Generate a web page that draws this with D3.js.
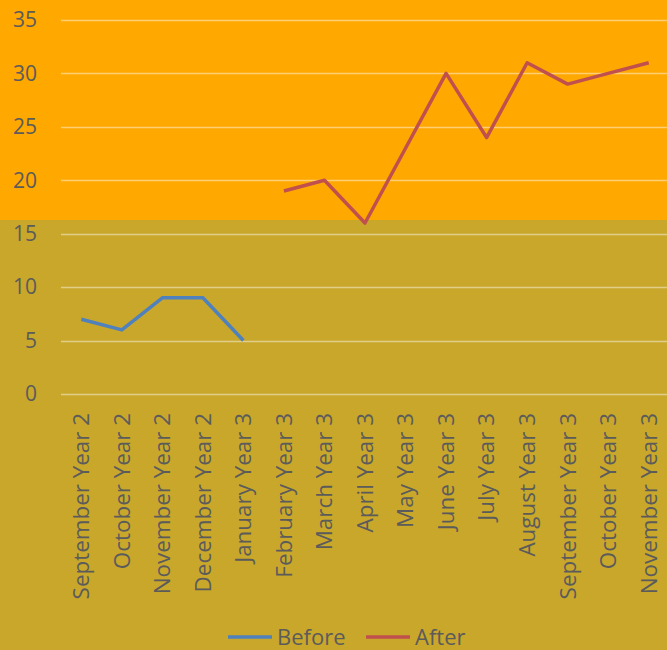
<!DOCTYPE html>
<html><head><meta charset="utf-8">
<script src="https://cdn.jsdelivr.net/npm/d3@7"></script>
<style>body{margin:0;background:#C9A72B;} svg{display:block;}</style>
</head><body>
<svg id="c" width="667" height="650"></svg>
<script>
const categories = ["September Year 2","October Year 2","November Year 2","December Year 2","January Year 3","February Year 3","March Year 3","April Year 3","May Year 3","June Year 3","July Year 3","August Year 3","September Year 3","October Year 3","November Year 3"];
const beforeValues = [7,6,9,9,5,null,null,null,null,null,null,null,null,null,null];
const afterValues = [null,null,null,null,null,19,20,16,23,30,24,31,29,30,31];
const yTicks = [0,5,10,15,20,25,30,35];
const seriesNames = ["Before","After"];
const seriesColors = ["#4F81BD","#C0504D"];

const svg = d3.select("#c");
const W = 667, H = 650;
const x = d3.scaleBand().domain(categories).range([61, 669]);
const y = d3.scaleLinear().domain([0,35]).range([394, 20]);
const font = "'Open Sans', sans-serif";
const textColor = "#5b5b5b";

svg.append("rect").attr("x",0).attr("y",0).attr("width",W).attr("height",H).attr("fill","#C9A72B");
svg.append("rect").attr("x",0).attr("y",0).attr("width",W).attr("height",220).attr("fill","#FFA800");

// gridlines
svg.append("g").selectAll("line").data(yTicks).join("line")
  .attr("x1",61).attr("x2",W).attr("y1",d=>Math.round(y(d))+0.5).attr("y2",d=>Math.round(y(d))+0.5)
  .attr("stroke","#ffffff").attr("stroke-opacity",0.45).attr("stroke-width",1.5);

// y axis labels
const yAxis = d3.axisLeft(y).tickValues(yTicks).tickSize(0).tickPadding(0);
const gy = svg.append("g").attr("transform","translate(37,0)").call(yAxis);
gy.select(".domain").remove();
gy.selectAll("text").attr("font-family",font).attr("font-size",21).attr("fill",textColor);

// x axis labels
const xAxis = d3.axisBottom(x).tickSize(0);
const gx = svg.append("g").attr("transform","translate(0,394)").call(xAxis);
gx.select(".domain").remove();
gx.selectAll("text")
  .attr("font-family",font).attr("font-size",22.4).attr("fill",textColor)
  .attr("text-anchor","end").attr("transform","rotate(-90)")
  .attr("x",-19).attr("y",0).attr("dy","0.35em");

// lines
const line = d3.line().defined(d=>d!=null).x((d,i)=>x(categories[i])+x.bandwidth()/2).y(d=>y(d));
[beforeValues, afterValues].forEach((vals,k)=>{
  svg.append("path").datum(vals).attr("d",line).attr("fill","none")
    .attr("stroke",seriesColors[k]).attr("stroke-width",3.5).attr("stroke-linejoin","round");
});

// legend
const legend = svg.append("g");
const legItems = [{x:228,name:seriesNames[0],c:seriesColors[0]},{x:366,name:seriesNames[1],c:seriesColors[1]}];
legItems.forEach(it=>{
  legend.append("line").attr("x1",it.x).attr("x2",it.x+44).attr("y1",637).attr("y2",637)
    .attr("stroke",it.c).attr("stroke-width",3.5);
  legend.append("text").attr("x",it.x+49).attr("y",637).attr("dy","0.35em")
    .attr("font-family",font).attr("font-size",22).attr("fill",textColor).text(it.name);
});
</script>
</body></html>
